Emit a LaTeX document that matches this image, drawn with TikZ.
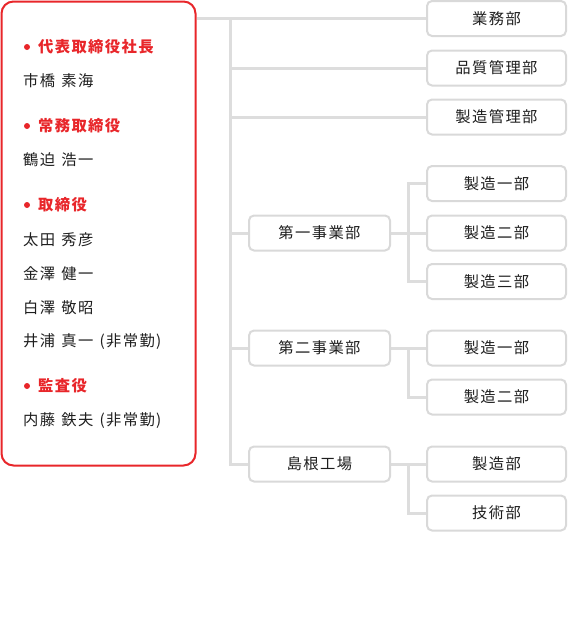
\documentclass[tikz,border=0pt]{standalone}
\usepackage{fontspec}
\setmainfont{Noto Sans CJK JP}[LetterSpace=9, WordSpace=1.3]
\usetikzlibrary{calc,backgrounds}
\definecolor{brandred}{HTML}{E8262A}
\definecolor{linegray}{HTML}{DDDDDD}
\definecolor{boxgray}{HTML}{D9D9D9}
\definecolor{txt}{HTML}{1E1E1E}
\tikzset{
  x=1pt,y=1pt,
  unit/.style={draw=boxgray, line width=2pt, rounded corners=5pt, fill=white,
    minimum height=35pt, inner sep=0pt, font=\fontsize{15.3}{15}\selectfont, text=txt},
  dept/.style={unit, minimum width=139pt},
  div/.style={unit, minimum width=141pt},
  conn/.style={draw=linegray, line width=3pt},
  role/.style={anchor=west, inner sep=0pt, text=brandred, font=\fontsize{15.3}{15}\selectfont\bfseries},
  person/.style={anchor=west, inner sep=0pt, text=txt, font=\fontsize{15.3}{15}\selectfont},
  dot/.style={circle, fill=brandred, inner sep=0pt, minimum size=6pt}
}
\begin{document}
\begin{tikzpicture}
\useasboundingbox (0,0) rectangle (568,-622);
% executive box
\node (exec) [draw=brandred, line width=2pt, rounded corners=12pt, minimum width=194pt, minimum height=464pt, inner sep=0pt] at (98.5,-233.5) {};
% roles and names
\node (d1) [dot] at (27,-47) {};
\node (r1) [role] at (38,-47) {代表取締役社長};
\node (p1) [person] at (23,-81) {市橋 素海};
\node (d2) [dot] at (27,-126) {};
\node (r2) [role] at (38,-126) {常務取締役};
\node (p2) [person] at (23,-160) {鶴迫 浩一};
\node (d3) [dot] at (27,-205) {};
\node (r3) [role] at (38,-205) {取締役};
\node (p3) [person] at (23,-239.5) {太田 秀彦};
\node (p4) [person] at (23,-273.5) {金澤 健一};
\node (p5) [person] at (23,-307.5) {白澤 敬昭};
\node (p6) [person] at (23,-342) {井浦 真一 (非常勤)};
\node (d4) [dot] at (27,-386) {};
\node (r4) [role] at (38,-386) {監査役};
\node (p7) [person] at (23,-421) {内藤 鉄夫 (非常勤)};
% right column departments
\node (b1) [dept] at (496.5,-18.5) {業務部};
\node (b2) [dept] at (496.5,-68) {品質管理部};
\node (b3) [dept] at (496.5,-117) {製造管理部};
\node (m11) [dept] at (496.5,-183.5) {製造一部};
\node (m12) [dept] at (496.5,-233) {製造二部};
\node (m13) [dept] at (496.5,-281.5) {製造三部};
\node (m21) [dept] at (496.5,-348) {製造一部};
\node (m22) [dept] at (496.5,-397) {製造二部};
\node (m31) [dept] at (496.5,-464) {製造部};
\node (m32) [dept] at (496.5,-513) {技術部};
% divisions
\node (v1) [div] at (319.5,-233) {第一事業部};
\node (v2) [div] at (319.5,-348) {第二事業部};
\node (v3) [div] at (319.5,-464) {島根工場};
% connectors
\coordinate (t) at (230,-18.5);
\coordinate (s) at (408,0);
\begin{scope}[on background layer]
\draw[conn] (exec.east |- b1) -- (b1.west);
\draw[conn] (t) |- (v3.west);
\draw[conn] (t |- b2) -- (b2.west);
\draw[conn] (t |- b3) -- (b3.west);
\draw[conn] (t |- v1) -- (v1.west);
\draw[conn] (t |- v2) -- (v2.west);
\draw[conn] (v1.east) -- (m12.west);
\draw[conn] (m11.west) -| (s |- m13) -- (m13.west);
\draw[conn] (v2.east) -- (m21.west);
\draw[conn] (s |- m21) |- (m22.west);
\draw[conn] (v3.east) -- (m31.west);
\draw[conn] (s |- m31) |- (m32.west);
\end{scope}
\end{tikzpicture}
\end{document}
